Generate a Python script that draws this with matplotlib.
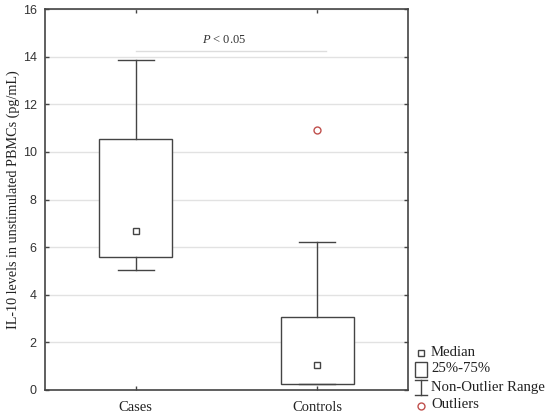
import matplotlib
matplotlib.use("Agg")
import matplotlib.pyplot as plt
from matplotlib.lines import Line2D
from matplotlib.patches import Rectangle

categories = ["Cases", "Controls"]
whislo = [5.02, 0.25]
q1 = [5.6, 0.25]
med = [6.69, 1.05]
q3 = [10.53, 3.06]
whishi = [13.85, 6.21]
fliers = [[], [10.9]]
y_ticks = [0, 2, 4, 6, 8, 10, 12, 14, 16]
p_text = "< 0.05"

plt.rcParams['mathtext.fontset'] = 'custom'
plt.rcParams['mathtext.it'] = 'Liberation Serif:italic'
plt.rcParams['mathtext.rm'] = 'Liberation Serif'

W, H = 550, 416
fig = plt.figure(figsize=(5.5, 4.16), dpi=100)
ax = fig.add_axes([45 / W, 1 - 390 / H, (408 - 45) / W, (390 - 9) / H])

edge = "#444444"
red = "#c0504d"

stats = []
for i in range(len(categories)):
    stats.append(dict(med=med[i], q1=q1[i], q3=q3[i], whislo=whislo[i],
                      whishi=whishi[i], fliers=fliers[i], label=categories[i]))

ax.bxp(stats, positions=list(range(len(categories))), widths=0.4,
       patch_artist=True, showfliers=True,
       boxprops=dict(facecolor="white", edgecolor=edge, linewidth=1.0),
       whiskerprops=dict(color=edge, linewidth=1.0),
       capprops=dict(color=edge, linewidth=1.0),
       capwidths=0.2,
       medianprops=dict(linewidth=0),
       flierprops=dict(marker="o", markerfacecolor="white", markeredgecolor=red,
                       markersize=5, markeredgewidth=1.0),
       zorder=3)
ax.plot(range(len(categories)), med, linestyle="none", marker="s", markersize=5,
        markerfacecolor="white", markeredgecolor=edge, markeredgewidth=1.0, zorder=4)

ax.set_xlim(-0.5, 1.5)
ax.set_ylim(0, 16)
ax.set_yticks(y_ticks)
ax.set_yticklabels([str(t) for t in y_ticks], family="Liberation Sans", fontsize=9, color="#333333")
ax.set_xticks(range(len(categories)))
ax.set_xticklabels(categories, family="Liberation Serif", fontsize=10.5, color="#222222")
ax.tick_params(axis="both", direction="in", length=3, color=edge, width=1.0,
               top=True, right=True)
ax.tick_params(axis="y", pad=6)
ax.tick_params(axis="x", pad=8)
ax.yaxis.grid(True, color="#e2e2e2", linewidth=1.0, zorder=0)
ax.set_axisbelow(True)
for s in ax.spines.values():
    s.set_color(edge)
    s.set_linewidth(1.2)

ax.set_ylabel("IL-10 levels in unstimulated PBMCs (pg/mL)", family="Liberation Serif",
              fontsize=10.2, color="#222222", labelpad=2)

# significance annotation
ax.plot([0, 1.05], [14.24, 14.24], color="#dddddd", linewidth=1.0, zorder=2, clip_on=False)
ax.text(0.49, 14.68, r"$P$ " + p_text, family="Liberation Serif", fontsize=9,
        color="#333333", ha="center", va="center")

# legend (manual, outside right)
def fx(x):
    return x / W

def fy(y):
    return 1 - y / H

fig.add_artist(Line2D([fx(421)], [fy(352.5)], marker="s", markersize=5, linestyle="none",
                      markerfacecolor="white", markeredgecolor=edge, markeredgewidth=1.0,
                      transform=fig.transFigure))
fig.add_artist(Rectangle((fx(415), fy(377)), fx(427) - fx(415), fy(362) - fy(377),
                         facecolor="white", edgecolor=edge, linewidth=1.0,
                         transform=fig.transFigure))
fig.add_artist(Line2D([fx(421), fx(421)], [fy(380), fy(395)], color=edge, linewidth=1.0,
                      transform=fig.transFigure))
fig.add_artist(Line2D([fx(415), fx(427)], [fy(380), fy(380)], color=edge, linewidth=1.0,
                      transform=fig.transFigure))
fig.add_artist(Line2D([fx(415), fx(427)], [fy(395), fy(395)], color=edge, linewidth=1.0,
                      transform=fig.transFigure))
fig.add_artist(Line2D([fx(421)], [fy(406)], marker="o", markersize=5, linestyle="none",
                      markerfacecolor="white", markeredgecolor=red, markeredgewidth=1.0,
                      transform=fig.transFigure))
leg_labels = ["Median", "25%-75%", "Non-Outlier Range", "Outliers"]
leg_y = [352, 369, 387, 405]
for lab, yy in zip(leg_labels, leg_y):
    fig.text(fx(431), fy(yy), lab, family="Liberation Serif", fontsize=10.6,
             color="#222222", ha="left", va="center")

fig.savefig("out.png", dpi=100)
